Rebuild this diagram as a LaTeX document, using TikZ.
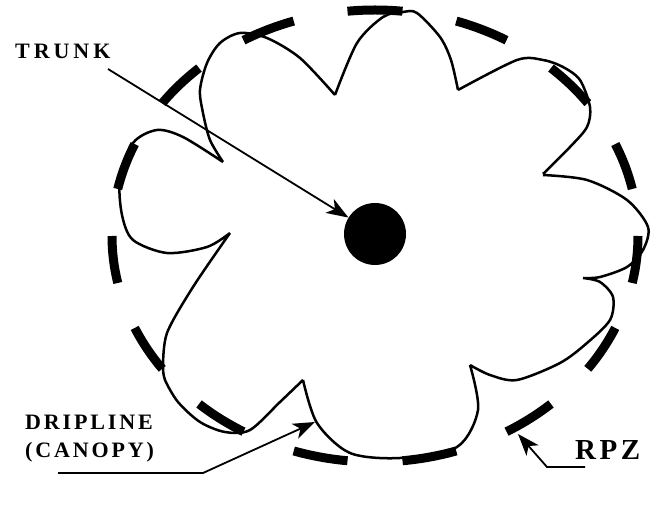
\documentclass[tikz,border=0pt]{standalone}
\usepackage{fontspec}
\setmainfont{Liberation Serif}
\newfontfamily\lblfont[LetterSpace=13]{Liberation Serif}
\usetikzlibrary{arrows.meta}
\tikzset{
  canopy/.style={line width=2.5pt, line join=round},
  rpzdash/.style={line width=9pt},
  leader/.style={line width=1.8pt, ->},
  lbl/.style={inner sep=0pt, align=left,
    font=\lblfont\bfseries\fontsize{22}{28}\selectfont},
  widelbl/.style={lbl, font=\lblfont\bfseries\fontsize{22}{28}\selectfont\addfontfeatures{LetterSpace=18}},
  biglbl/.style={lbl, font=\lblfont\bfseries\fontsize{29}{34}\selectfont\addfontfeatures{LetterSpace=12}}
}

\begin{document}
\begin{tikzpicture}[x=1pt, y=-1pt,
    >={Stealth[length=22pt,width=16pt,inset=6pt]}
    ]
    \useasboundingbox (0,0) rectangle (665,510);

    % root protection zone (dashed ring)
    \coordinate (rpzc) at (375,236);
    \foreach \a in {0,...,14}
      \draw[rpzdash] (rpzc) ++({270+24*\a-6}:263 and 226)
        arc[start angle={270+24*\a-6}, delta angle=12, x radius=263, y radius=226];

    % dripline of the canopy, one lobe per plot
    \draw[canopy]
      plot[smooth] coordinates {(223,162) (210,140) (203,113) (200,90) (207,63) (220,43) (240,33) (267,38) (300,58) (335,95)}
      plot[smooth] coordinates {(335,95) (357,43) (383,17) (403,12) (417,13) (440,37) (451,60) (458,90)}
      plot[smooth] coordinates {(458,90) (517,60) (543,60) (563,67) (580,80) (590,107) (587,127) (570,147) (543,174)}
      plot[smooth] coordinates {(543,175) (587,180) (627,200) (648,227) (643,250) (627,267) (600,277) (583,278)}
      plot[smooth] coordinates {(583,278) (600,282) (613,297) (610,320) (587,343) (560,363) (517,380) (490,375) (470,365)}
      plot[smooth] coordinates {(470,365) (478,410) (457,447) (400,458) (350,453) (317,423) (303,380)}
      plot[smooth] coordinates {(303,380) (280,402) (250,430) (225,432) (200,422) (178,402) (165,380) (163,367)}
      plot[smooth] coordinates {(163,367) (167,333) (193,287) (230,233)}
      plot[smooth] coordinates {(230,233) (207,247) (167,253) (133,240) (122,215) (120,180) (133,143) (157,130) (183,137) (223,162)};

    \node[circle, fill, inner sep=0pt, minimum size=62pt] (trunk) at (375,234) {};

    % labels
    \node[widelbl, anchor=west] (trunklbl) at (15,51) {TRUNK};
    \node[lbl, anchor=north west] (driplbl) at (25,415) {DRIPLINE\\(CANOPY)};
    \node[biglbl, anchor=west] (rpzlbl) at (575,450) {RPZ};

    % leaders
    \coordinate (trunkfoot) at (108,69);
    \coordinate (dripfoot) at (58,473);
    \coordinate (dripbend) at (203,473);
    \coordinate (driptip) at (315,422);
    \coordinate (rpzfoot) at (585,467);
    \coordinate (rpzbend) at (547,467);
    \coordinate (rpztip) at (518,434);

    \draw[leader] (trunkfoot) -- (trunk);
    \draw[leader] (dripfoot) -- (dripbend) -- (driptip);
    \draw[leader] (rpzfoot) -- (rpzbend) -- (rpztip);

\end{tikzpicture}
\end{document}
